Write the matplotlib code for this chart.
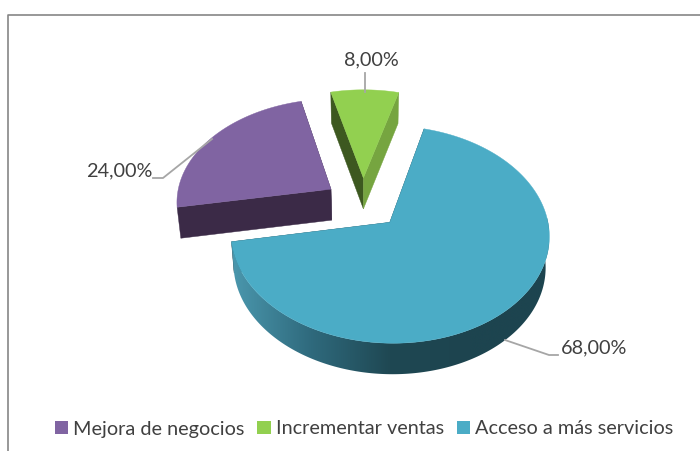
import numpy as np
import matplotlib
matplotlib.use("Agg")
import matplotlib.pyplot as plt
from matplotlib.patches import Polygon, Patch
from matplotlib.colors import to_rgb

# Data: clockwise drawing order of the pie
categories = ["Acceso a más servicios", "Mejora de negocios", "Incrementar ventas"]
values = [68.0, 24.0, 8.0]
labels = ["68,00%", "24,00%", "8,00%"]
legend_order = [1, 2, 0]

top_colors = ["#4bacc6", "#8064a2", "#92d050"]
end_colors = ["#1d444f", "#3b2a47", "#76a540"]
start_colors = ["#1d444f", "#3b2a47", "#3d5820"]
gradient = ["#4b98ae", "#2f6a7d", "#1f4853", "#1d444f", "#1d444f"]
text_color = "#404040"
line_color = "#a6a6a6"

X0, Y0, A, B, P = 363.0, 203.0, 155.0, 103.0, 0.11
EXPLODE, DEPTH, SHRINK = 0.25, 31.0, 0.98
START = 75.0
FONT = "Lato"
FS = 14.3

fig = plt.figure(figsize=(7.0, 4.51), dpi=100)
ax = fig.add_axes([0, 0, 1, 1])
ax.axis("off")


def project(u, v, low=False):
    f = 1.0 / (1.0 + P * v)
    x = A * u * f
    y = Y0 - B * v * f
    if low:
        return X0 + x * SHRINK, y + DEPTH
    return X0 + x, y


ax.plot([700, 7.5, 7.5], [14.5, 14.5, 451], color="#868686", lw=1.2, zorder=1)

# wedge angles come from the values
spans = np.array(values) / sum(values) * 360.0
ends = START - np.cumsum(spans)
starts = ends + spans

for i in [1, 2, 0]:
    mid = np.radians((starts[i] + ends[i]) / 2)
    ou, ov = EXPLODE * np.cos(mid), EXPLODE * np.sin(mid)
    t = np.radians(np.linspace(starts[i], ends[i], 240))
    ru, rv = ou + np.cos(t), ov + np.sin(t)

    # cut faces
    for tt, col in ((t[0], start_colors[i]), (t[-1], end_colors[i])):
        eu, ev = ou + np.cos(tt), ov + np.sin(tt)
        pts = [project(ou, ov), project(eu, ev), project(eu, ev, True), project(ou, ov, True)]
        ax.add_patch(Polygon(pts, closed=True, fc=col, ec=col, lw=0.3, zorder=2))

    # outer wall (only where it faces the viewer), shaded left to right
    if i == 0:
        keep = np.sin(t) <= 0.05
        ux, uy = project(ru[keep], rv[keep])
        lx, ly = project(ru[keep], rv[keep], True)
        wall = Polygon(np.column_stack([np.r_[ux, lx[::-1]], np.r_[uy, ly[::-1]]]), closed=True,
                       fc="none", ec="none", transform=ax.transData)
        ax.add_patch(wall)
        rgb = np.array([to_rgb(c) for c in gradient])
        samples = np.linspace(0, len(gradient) - 1, 400)
        ramp = np.stack([np.interp(samples, np.arange(len(gradient)), rgb[:, c]) for c in range(3)], axis=-1)
        im = ax.imshow(ramp[None, :, :], extent=[ux.min(), ux.max(), 400, 200], aspect="auto",
                       interpolation="bilinear", zorder=3)
        im.set_clip_path(wall)

    # top surface
    tx, ty = project(ru, rv)
    ax0, ay0 = project(ou, ov)
    ax.add_patch(Polygon(np.column_stack([np.r_[ax0, tx], np.r_[ay0, ty]]), closed=True,
                         fc=top_colors[i], ec=top_colors[i], lw=0.3, zorder=4))

# leader lines and value labels
ax.plot([365, 365], [92, 73], color=line_color, lw=1.3, zorder=5)
ax.plot([212, 163, 153], [139, 178, 178], color=line_color, lw=1.3, zorder=5)
ax.plot([505, 549, 558], [340, 355, 355], color=line_color, lw=1.3, zorder=5)
ax.text(371, 60, labels[2], ha="center", va="center", color=text_color, family=FONT, fontsize=FS)
ax.text(152, 171, labels[1], ha="right", va="center", color=text_color, family=FONT, fontsize=FS)
ax.text(561, 348, labels[0], ha="left", va="center", color=text_color, family=FONT, fontsize=FS)

handles = [Patch(fc=top_colors[i], ec="none", label=categories[i]) for i in legend_order]
ax.legend(handles=handles, ncol=3, loc="center", bbox_to_anchor=(364 / 700, 1 - 429 / 451),
          frameon=False, labelcolor=text_color, prop={"family": FONT, "size": FS},
          handlelength=0.68, handleheight=0.68, handletextpad=0.25, columnspacing=0.65,
          borderpad=0, borderaxespad=0)

ax.set_xlim(0, 700)
ax.set_ylim(451, 0)
fig.savefig("out.png", dpi=100)
